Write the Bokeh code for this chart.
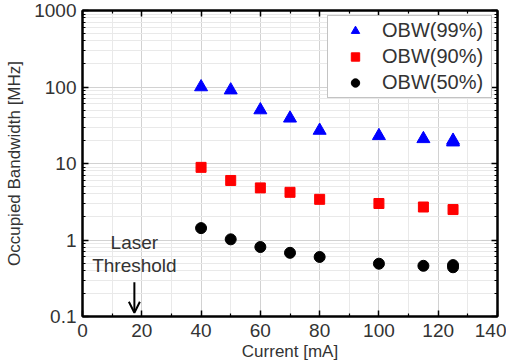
from bokeh.plotting import figure
from bokeh.models import (FixedTicker, LinearAxis, LogAxis, Legend, LegendItem,
                          Arrow, OpenHead, Label, Range1d, Title)
from bokeh.embed import file_html
from bokeh.resources import INLINE

# ---- data ----
current_99 = [40, 50, 60, 70, 80, 100, 115, 125, 125]
obw_99 = [100, 91, 50, 39, 27, 23, 21, 20, 19]

current_90 = [40, 50, 60, 70, 80, 100, 115, 125]
obw_90 = [8.9, 6.0, 4.8, 4.2, 3.4, 3.0, 2.7, 2.5]

current_50 = [40, 50, 60, 70, 80, 100, 115, 125, 125]
obw_50 = [1.43, 1.02, 0.81, 0.68, 0.60, 0.49, 0.46, 0.47, 0.44]

x_ticks = [0, 20, 40, 60, 80, 100, 120, 140]
x_minor = [10, 30, 50, 70, 90, 110, 130]
y_ticks = [0.1, 1, 10, 100, 1000]
y_tick_labels = ["0.1", "1", "10", "100", "1000"]

x_title = "Current [mA]"
y_title = "Occupied Bandwidth [MHz]"

threshold_current = 17.5
annot_laser = ("Laser", 17.5, 0.94)
annot_thresh = ("Threshold", 17.5, 0.47)
arrow_from, arrow_to = 0.28, 0.112

FONT = "Liberation Sans"
TXT = "#333333"

p = figure(width=506, height=363, y_axis_type="log",
           x_range=Range1d(0, 140), y_range=Range1d(0.1, 1000),
           output_backend="svg", toolbar_location=None,
           min_border_left=82, min_border_right=9, min_border_top=10,
           min_border_bottom=47)
p.background_fill_color = "white"
p.outline_line_color = "black"
p.outline_line_width = 2

y_minor = [m * d for d in [0.1, 1, 10, 100] for m in range(2, 10)]
xt = FixedTicker(ticks=x_ticks, minor_ticks=x_minor)
yt = FixedTicker(ticks=y_ticks, minor_ticks=y_minor)

def style_axis(ax, labels=True):
    ax.axis_line_color = "black"
    ax.axis_line_width = 2
    ax.major_tick_in = 6
    ax.major_tick_out = 0
    ax.minor_tick_in = 3
    ax.minor_tick_out = 0
    ax.major_tick_line_width = 1.5
    ax.minor_tick_line_width = 1.2
    ax.major_tick_line_color = "black"
    ax.minor_tick_line_color = "black"
    if labels:
        ax.major_label_text_font = FONT
        ax.major_label_text_font_size = "19px"
        ax.major_label_text_color = TXT
        ax.axis_label_text_font = FONT
        ax.axis_label_text_font_size = "17px"
        ax.axis_label_text_font_style = "normal"
        ax.axis_label_text_color = TXT
    else:
        ax.major_label_text_font_size = "1px"
        ax.major_label_text_alpha = 0
        ax.major_label_standoff = 0

xa = p.xaxis[0]
xa.ticker = xt
style_axis(xa)
xa.major_label_standoff = 7

ya = p.yaxis[0]
ya.ticker = yt
style_axis(ya)
ya.major_label_overrides = {t: l for t, l in zip(y_ticks, y_tick_labels)}
ya.axis_label = y_title
ya.major_label_standoff = 6
ya.axis_label_standoff = 7

top = LinearAxis(ticker=xt)
style_axis(top, labels=False)
p.add_layout(top, "above")
right = LogAxis(ticker=yt)
style_axis(right, labels=False)
p.add_layout(right, "right")

p.add_layout(Title(text=x_title, align="center", standoff=0,
                   text_font=FONT, text_font_size="17px",
                   text_font_style="normal", text_color=TXT), "below")

p.xgrid.ticker = xt
p.ygrid.ticker = yt
for g in (p.xgrid[0], p.ygrid[0]):
    g.grid_line_color = "#d2d2d2"
    g.grid_line_width = 1
    g.minor_grid_line_color = "#e9e9e9"
    g.minor_grid_line_width = 1

r99 = p.scatter(current_99, obw_99, marker="triangle", size=13,
                fill_color="#0000ff", line_color="#0000ff")
r90 = p.scatter(current_90, obw_90, marker="square", size=10,
                fill_color="#ff0000", line_color="#ff0000")
r50 = p.scatter(current_50, obw_50, marker="circle", size=11,
                fill_color="black", line_color="black")

legend = Legend(items=[LegendItem(label="OBW(99%)", renderers=[r99]),
                       LegendItem(label="OBW(90%)", renderers=[r90]),
                       LegendItem(label="OBW(50%)", renderers=[r50])],
                location="top_right", margin=5, padding=3, spacing=3,
                glyph_width=48, glyph_height=21, label_height=21,
                label_width=106, label_standoff=3,
                label_text_font=FONT, label_text_font_size="20px",
                label_text_color=TXT,
                border_line_color="#888888", border_line_width=1,
                background_fill_color="white", background_fill_alpha=1)
p.add_layout(legend)

for txt, xx, yy in (annot_laser, annot_thresh):
    p.add_layout(Label(x=xx, y=yy, text=txt, text_align="center",
                       text_baseline="middle", text_font=FONT,
                       text_font_size="19px", text_color=TXT))

p.add_layout(Arrow(x_start=threshold_current, y_start=arrow_from,
                   x_end=threshold_current, y_end=arrow_to,
                   line_color="black", line_width=2,
                   end=OpenHead(size=11, line_color="black", line_width=2)))

open("out.html", "w").write(file_html(p, INLINE))
